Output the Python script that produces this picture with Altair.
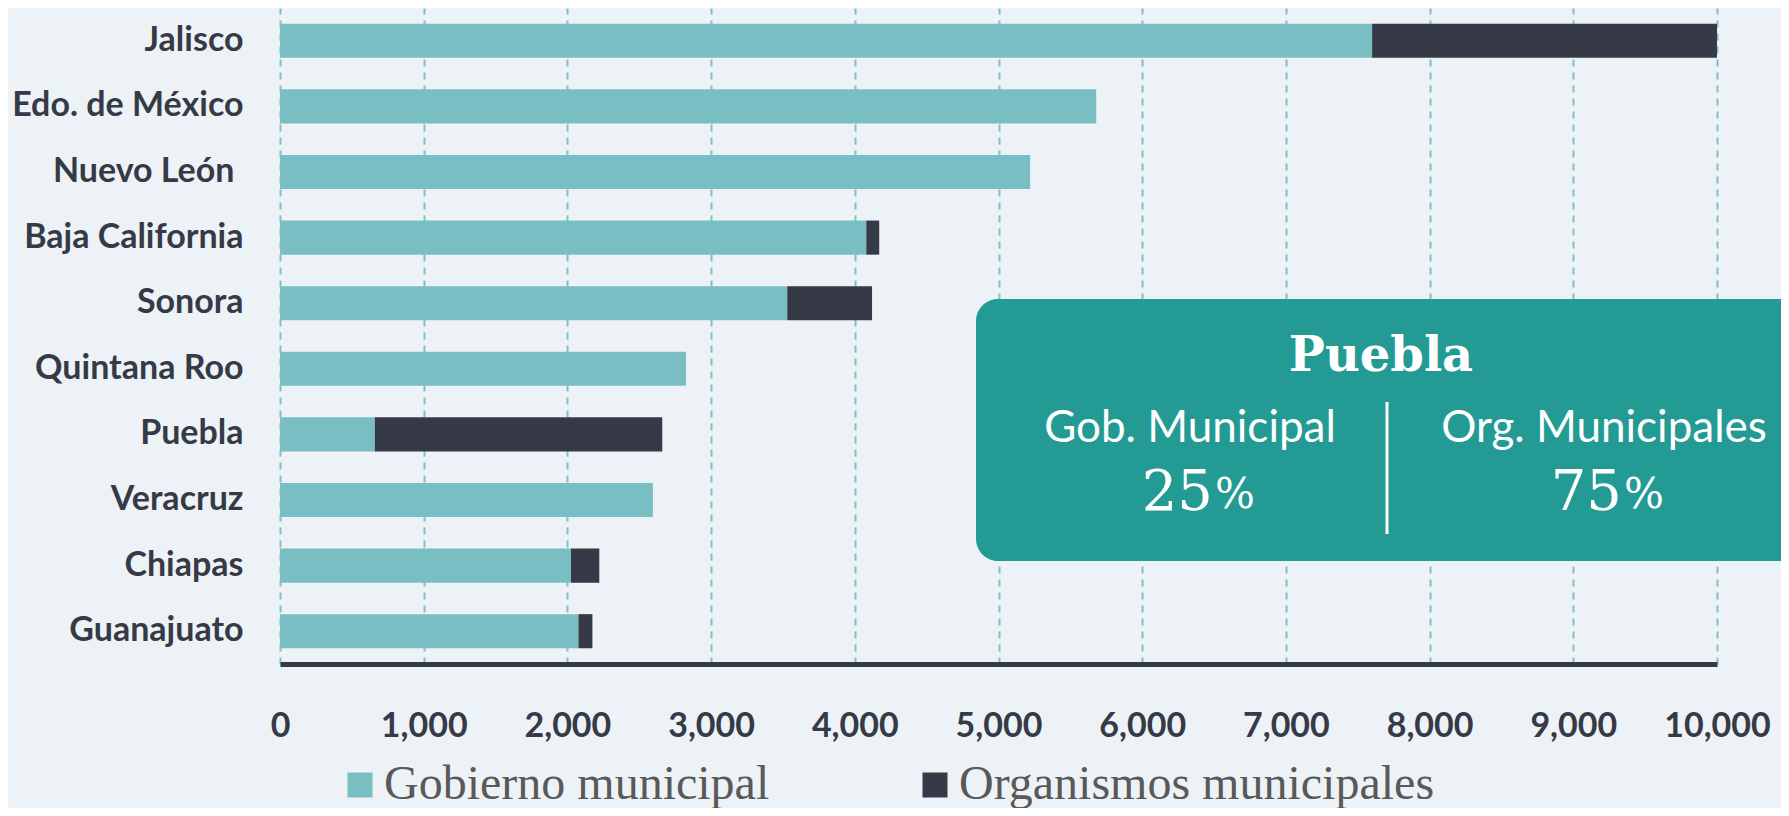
import altair as alt
import pandas as pd

# ---------------- data ----------------
states = ["Jalisco", "Edo. de México", "Nuevo León", "Baja California", "Sonora",
          "Quintana Roo", "Puebla", "Veracruz", "Chiapas", "Guanajuato"]
gob_municipal = [7600, 5680, 5220, 4080, 3530, 2825, 660, 2595, 2025, 2077]
org_municipales = [2400, 0, 0, 90, 590, 0, 2000, 0, 197, 97]
series = ["Gobierno municipal", "Organismos municipales"]
x_ticks = [0, 1000, 2000, 3000, 4000, 5000, 6000, 7000, 8000, 9000, 10000]

highlight = "Puebla"
box_labels = ["Gob. Municipal", "Org. Municipales"]

# ---------------- styles ----------------
BG = "#EDF2F7"
TEAL = "#78BEC3"
DARK = "#353A46"
BOX = "#239B94"
GRID = "#7CC2C6"

rows = []
for s, g, o in zip(states, gob_municipal, org_municipales):
    rows.append({"estado": s, "serie": series[0], "valor": g, "orden": 0})
    rows.append({"estado": s, "serie": series[1], "valor": o, "orden": 1})
df = pd.DataFrame(rows)

i = states.index(highlight)
tot = gob_municipal[i] + org_municipales[i]
pct_g = round(100 * gob_municipal[i] / tot)
pct_o = 100 - pct_g

bars = alt.Chart(df).mark_bar().encode(
    y=alt.Y("estado:N", sort=states,
            scale=alt.Scale(paddingInner=0.48, paddingOuter=0.24),
            axis=alt.Axis(title=None, domain=False, ticks=False, tickSize=0,
                          labelPadding={"condition": {"test": "datum.value === 'Nuevo León'",
                                                      "value": 46},
                                        "value": 37},
                          labelFont="Lato", labelFontWeight="bold",
                          labelFontSize=34, labelColor=DARK, labelLimit=500)),
    x=alt.X("valor:Q", stack="zero",
            scale=alt.Scale(domain=[0, 10000], nice=False),
            axis=alt.Axis(title=None, values=x_ticks, format=",.0f", grid=True,
                          gridColor=GRID, gridDash=[7, 6], gridWidth=2,
                          ticks=False, tickSize=0, domain=True, domainColor=DARK,
                          domainWidth=5, labelFont="Lato", labelFontWeight="bold",
                          labelFontSize=34, labelColor=DARK, labelPadding=62,
                          labelBaseline="middle", labelFlush=False, labelOverlap=False)),
    color=alt.Color("serie:N", scale=alt.Scale(domain=series, range=[TEAL, DARK]),
                    legend=alt.Legend(orient="none", legendX=56, legendY=753,
                                      direction="horizontal", title=None,
                                      symbolType="square", symbolSize=625,
                                      symbolStrokeWidth=0, labelFont="Liberation Serif",
                                      labelFontSize=48, labelColor="#595959",
                                      labelOffset=0, columnPadding=141, labelLimit=800)),
    order=alt.Order("orden:Q"),
)

one = pd.DataFrame({"k": [0]})

box = alt.Chart(one).mark_rect(color=BOX, cornerRadius=22).encode(
    x=alt.value(696), x2=alt.value(1600), y=alt.value(291), y2=alt.value(553))

title = alt.Chart(pd.DataFrame({"t": [highlight]})).mark_text(
    font="DejaVu Serif", fontWeight="bold", fontSize=48, color="white",
    align="center", baseline="alphabetic").encode(
    x=alt.value(1101), y=alt.value(363), text="t:N")

sub = alt.Chart(pd.DataFrame({"t": box_labels, "px": [910, 1324]})).mark_text(
    font="Lato", fontSize=44, color="white", align="center", baseline="alphabetic").encode(
    x=alt.X("px:Q", scale=None), y=alt.value(434), text="t:N")

nums = alt.Chart(pd.DataFrame({"t": [str(pct_g), str(pct_o)], "px": [933, 1342]})).mark_text(
    font="DejaVu Serif", fontSize=56, color="white", align="right", baseline="alphabetic").encode(
    x=alt.X("px:Q", scale=None), y=alt.value(502), text="t:N")

pcts = alt.Chart(pd.DataFrame({"t": ["%", "%"], "px": [935, 1344]})).mark_text(
    font="DejaVu Serif", fontSize=42, color="white", align="left", baseline="alphabetic").encode(
    x=alt.X("px:Q", scale=None), y=alt.value(500), text="t:N")

divider = alt.Chart(one).mark_rule(color="white", strokeWidth=3).encode(
    x=alt.value(1107), y=alt.value(394), y2=alt.value(526))

chart = alt.layer(bars, box, title, sub, nums, pcts, divider).properties(
    width=1437, height=656,
    autosize=alt.AutoSizeParams(type="none"),
    padding={"left": 272, "top": 0, "right": 64, "bottom": 144},
    background=BG,
).configure_view(stroke=None)

chart.save("out.html", embed_options={"renderer": "svg", "actions": False})
